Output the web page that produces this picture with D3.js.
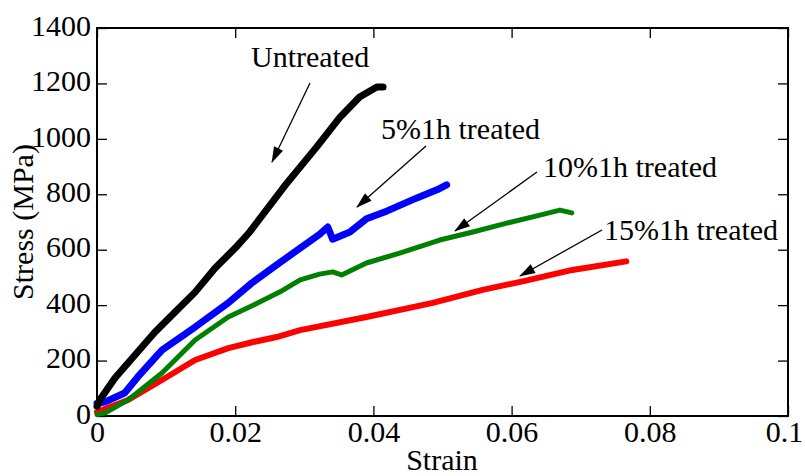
<!DOCTYPE html>
<html>
<head>
<meta charset="utf-8">
<script src="https://d3js.org/d3.v7.min.js"></script>
<style>
  body { margin: 0; background: #fff; }
  text { font-family: "Liberation Serif", "Times New Roman", serif; }
</style>
</head>
<body>
<script>
// values
var xTicks = [0, 0.02, 0.04, 0.06, 0.08, 0.1];
var yTicks = [0, 200, 400, 600, 800, 1000, 1200, 1400];

var untreatedStrain = [0, 0.0004, 0.0026, 0.0055, 0.0084, 0.0113, 0.0142, 0.0171, 0.02, 0.0221, 0.0275, 0.0318, 0.0352, 0.038, 0.0405, 0.0414];
var untreatedStress = [35, 58, 137, 220, 303, 375, 447, 534, 606, 664, 841, 971, 1079, 1151, 1187, 1187];

var fivePctStrain = [0, 0.0012, 0.004, 0.0059, 0.0094, 0.0142, 0.019, 0.0224, 0.026, 0.0294, 0.0322, 0.0334, 0.0341, 0.0366, 0.039, 0.042, 0.0463, 0.0492, 0.0506];
var fivePctStress = [45, 51, 83, 141, 238, 321, 408, 480, 545, 606, 655, 682, 638, 664, 712, 740, 787, 816, 834];

var tenPctStrain = [0, 0.0012, 0.0045, 0.0094, 0.0142, 0.019, 0.0226, 0.0265, 0.0294, 0.0322, 0.0341, 0.0354, 0.039, 0.0438, 0.0496, 0.0544, 0.0593, 0.0641, 0.067, 0.0687];
var tenPctStress = [5, 11, 58, 155, 274, 357, 400, 448, 491, 512, 520, 509, 552, 588, 635, 664, 696, 725, 743, 733];

var fifteenPctStrain = [0, 0.0045, 0.0094, 0.0142, 0.019, 0.0226, 0.026, 0.0294, 0.039, 0.0486, 0.0558, 0.0616, 0.0688, 0.0766];
var fifteenPctStress = [14, 58, 130, 202, 245, 267, 285, 310, 357, 408, 455, 486, 527, 558];

var seriesNames = ["Untreated", "5%1h treated", "10%1h treated", "15%1h treated"];
var seriesColors = ["#000000", "#0000ff", "#008000", "#ff0000"];

var W = 805, H = 476;
var x = d3.scaleLinear().domain([0, 0.1]).range([97, 788]);
var y = d3.scaleLinear().domain([0, 1400]).range([416, 28]);

var svg = d3.select("body").append("svg")
    .attr("width", W)
    .attr("height", H);

var defs = svg.append("defs");
defs.append("marker")
    .attr("id", "head")
    .attr("markerUnits", "userSpaceOnUse")
    .attr("viewBox", "0 0 16 10")
    .attr("markerWidth", 17)
    .attr("markerHeight", 10)
    .attr("refX", 15)
    .attr("refY", 5)
    .attr("orient", "auto")
    .append("path")
    .attr("d", "M0,0 L16,5 L0,10 z")
    .attr("fill", "#000");

var fmtX = d => String(+d.toFixed(2));
var fmtY = d3.format("d");
var fs = 30;

// axes, ticks pointing inward
var gx = svg.append("g").attr("transform", "translate(0,416)")
    .call(d3.axisBottom(x).tickValues(xTicks).tickSizeInner(-10).tickSizeOuter(0).tickFormat(fmtX));
var gxt = svg.append("g").attr("transform", "translate(0,28)")
    .call(d3.axisTop(x).tickValues(xTicks).tickSizeInner(-10).tickSizeOuter(0).tickFormat(""));
var gy = svg.append("g").attr("transform", "translate(97,0)")
    .call(d3.axisLeft(y).tickValues(yTicks).tickSizeInner(-10).tickSizeOuter(0).tickPadding(6).tickFormat(fmtY));
var gyr = svg.append("g").attr("transform", "translate(788,0)")
    .call(d3.axisRight(y).tickValues(yTicks).tickSizeInner(-10).tickSizeOuter(0).tickFormat(""));

[gx, gxt, gy, gyr].forEach(g => {
  g.select(".domain").remove();
  g.selectAll(".tick line").attr("stroke", "#000").attr("stroke-width", 1.3);
  g.selectAll("text").attr("font-size", fs).attr("fill", "#000")
    .style("font-family", "'Liberation Serif', serif");
});
gx.selectAll("text").attr("dy", 0).attr("y", 26);
// keep the last strain label inside the picture
gx.selectAll("text").filter(d => d === 0.1).attr("x", -4);
gy.selectAll("text").attr("dy", "0.24em");

svg.append("rect")
    .attr("x", 97).attr("y", 28)
    .attr("width", 788 - 97).attr("height", 416 - 28)
    .attr("fill", "none").attr("stroke", "#000").attr("stroke-width", 2);

// curves
var line = d3.line().x(d => x(d[0])).y(d => y(d[1]));
var curves = [
  d3.zip(untreatedStrain, untreatedStress),
  d3.zip(fivePctStrain, fivePctStress),
  d3.zip(tenPctStrain, tenPctStress),
  d3.zip(fifteenPctStrain, fifteenPctStress)
];
var widths = [7, 7, 5, 6];
// draw red first, black last on top
[3, 2, 1, 0].forEach(i => {
  svg.append("path")
    .datum(curves[i])
    .attr("d", line)
    .attr("fill", "none")
    .attr("stroke", seriesColors[i])
    .attr("stroke-width", widths[i])
    .attr("stroke-linejoin", "round")
    .attr("stroke-linecap", "round");
});

// annotations
var labels = [
  {t: seriesNames[0], x: 251, y: 67, ax1: 310, ay1: 83, ax2: 272, ay2: 162},
  {t: seriesNames[1], x: 381, y: 139, ax1: 426, ay1: 146, ax2: 357, ay2: 207},
  {t: seriesNames[2], x: 543, y: 177, ax1: 537, ay1: 172, ax2: 455, ay2: 231},
  {t: seriesNames[3], x: 604, y: 240, ax1: 602, ay1: 230, ax2: 520, ay2: 276}
];
labels.forEach(l => {
  svg.append("text").attr("x", l.x).attr("y", l.y)
    .attr("font-size", fs).text(l.t);
  svg.append("line")
    .attr("x1", l.ax1).attr("y1", l.ay1)
    .attr("x2", l.ax2).attr("y2", l.ay2)
    .attr("stroke", "#000").attr("stroke-width", 1.3)
    .attr("marker-end", "url(#head)");
});

// axis titles
svg.append("text")
    .attr("x", 442).attr("y", 470)
    .attr("text-anchor", "middle")
    .attr("font-size", fs)
    .text("Strain");
svg.append("text")
    .attr("transform", "translate(33,222) rotate(-90)")
    .attr("text-anchor", "middle")
    .attr("font-size", fs)
    .text("Stress (MPa)");
</script>
</body>
</html>
